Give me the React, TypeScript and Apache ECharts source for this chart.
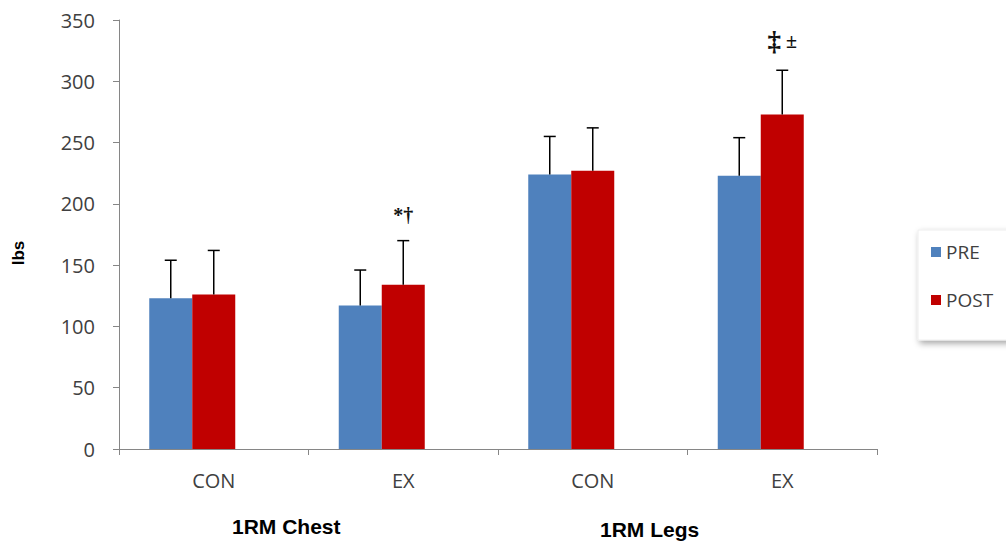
import React, { useEffect, useRef } from "react";
import * as echarts from "echarts";

const categories = ["CON", "EX", "CON", "EX"];
const groupLabels = ["1RM Chest", "1RM Legs"];
const seriesNames = ["PRE", "POST"];
const yAxisName = "lbs";
const preValues = [123, 117, 224, 223];
const postValues = [126, 134, 227, 273];
const preErrors = [31, 29, 31, 31];
const postErrors = [36, 36, 35, 36];
const postMarks = ["", "{a|*†}", "", "{b|‡} {a|±}"];
const yMin = 0;
const yMax = 350;
const yInterval = 50;

const BLUE = "#4F81BD";
const RED = "#C00000";
const BAR_W = 43;

function errorSeries(name: string, values: number[], errors: number[], marks: string[], offset: number) {
  return {
    type: "custom",
    name: name + " error",
    z: 5,
    silent: true,
    data: values.map((v, i) => [i, v, errors[i]]),
    encode: { x: 0, y: 1 },
    renderItem: (params: any, api: any) => {
      const i = api.value(0);
      const v = api.value(1);
      const e = api.value(2);
      const mark = marks[params.dataIndex] || "";
      const base = api.coord([i, v]);
      const top = api.coord([i, v + e]);
      const x = base[0] + offset;
      const children: any[] = [
        { type: "line", shape: { x1: x, y1: base[1], x2: x, y2: top[1] }, style: { stroke: "#000", lineWidth: 1.5 } },
        { type: "line", shape: { x1: x - 6, y1: top[1], x2: x + 6, y2: top[1] }, style: { stroke: "#000", lineWidth: 1.5 } },
      ];
      if (mark) {
        children.push({
          type: "text",
          x: x,
          y: top[1] - 16,
          style: {
            text: mark,
            align: "center",
            verticalAlign: "bottom",
            fontSize: 20,
            fontWeight: "bold",
            fontFamily: "Liberation Serif",
            fill: "#111",
            rich: {
              a: { fontSize: 20, fontWeight: "bold", fontFamily: "Liberation Serif", fill: "#111" },
              b: { fontSize: 27, fontWeight: "bold", fontFamily: "Liberation Serif", fill: "#111" },
            },
          },
        });
      }
      return { type: "group", children };
    },
  };
}

export default function App() {
  const ref = useRef<HTMLDivElement>(null);
  useEffect(() => {
    document.body.style.margin = "0";
    if (!ref.current) return;
    const chart = echarts.init(ref.current, null, { renderer: "svg" });
    const labelColor = "#404040";
    const font = "Open Sans";
    chart.setOption({
      animation: false,
      backgroundColor: "#fff",
      grid: { left: 119, right: 129, top: 20, bottom: 92, containLabel: false },
      legend: {
        data: seriesNames,
        orient: "vertical",
        left: 918,
        top: 230,
        icon: "rect",
        itemWidth: 10,
        itemHeight: 10,
        itemGap: 26,
        padding: [11, 30, 29, 13],
        backgroundColor: "#fff",
        borderColor: "#eeeeee",
        borderWidth: 1,
        shadowBlur: 6,
        shadowColor: "rgba(0,0,0,0.35)",
        shadowOffsetX: 2,
        shadowOffsetY: 3,
        textStyle: { fontSize: 19, fontFamily: font, color: labelColor, lineHeight: 22, padding: [0, 0, 0, 0] },
        selectedMode: false,
      },
      xAxis: {
        type: "category",
        data: categories,
        axisLine: { lineStyle: { color: "#868686", width: 1 } },
        axisTick: { show: true, alignWithLabel: false, length: 6, lineStyle: { color: "#868686" } },
        axisLabel: { color: labelColor, fontSize: 20, fontFamily: font, margin: 21 },
      },
      yAxis: {
        type: "value",
        min: yMin,
        max: yMax,
        interval: yInterval,
        axisLine: { show: true, lineStyle: { color: "#868686", width: 1 } },
        axisTick: { show: true, length: 6, lineStyle: { color: "#868686" } },
        axisLabel: { color: labelColor, fontSize: 20, fontFamily: font, margin: 24 },
        splitLine: { show: false },
      },
      series: [
        { type: "bar", name: seriesNames[0], data: preValues, barWidth: BAR_W, barGap: "0%", itemStyle: { color: BLUE } },
        { type: "bar", name: seriesNames[1], data: postValues, barWidth: BAR_W, barGap: "0%", itemStyle: { color: RED } },
        { type: "bar", name: "blank", data: categories.map(() => "-"), barWidth: BAR_W, barGap: "0%" },
        errorSeries(seriesNames[0], preValues, preErrors, [], -BAR_W),
        errorSeries(seriesNames[1], postValues, postErrors, postMarks, 0),
      ],
      graphic: [
        {
          type: "text",
          x: 18,
          y: 253,
          rotation: Math.PI / 2,
          style: {
            text: yAxisName,
            align: "center",
            verticalAlign: "middle",
            fontSize: 17,
            fontWeight: "bold",
            fontFamily: "Liberation Sans",
            fill: "#000",
          },
        },
        {
          type: "text",
          left: 232,
          top: 516,
          style: { text: groupLabels[0], fontSize: 21, fontWeight: "bold", fontFamily: "Liberation Sans", fill: "#000" },
        },
        {
          type: "text",
          left: 600,
          top: 519,
          style: { text: groupLabels[1], fontSize: 21, fontWeight: "bold", fontFamily: "Liberation Sans", fill: "#000" },
        },
      ],
    });
    return () => chart.dispose();
  }, []);
  return <div ref={ref} style={{ width: 1006, height: 541 }} />;
}
